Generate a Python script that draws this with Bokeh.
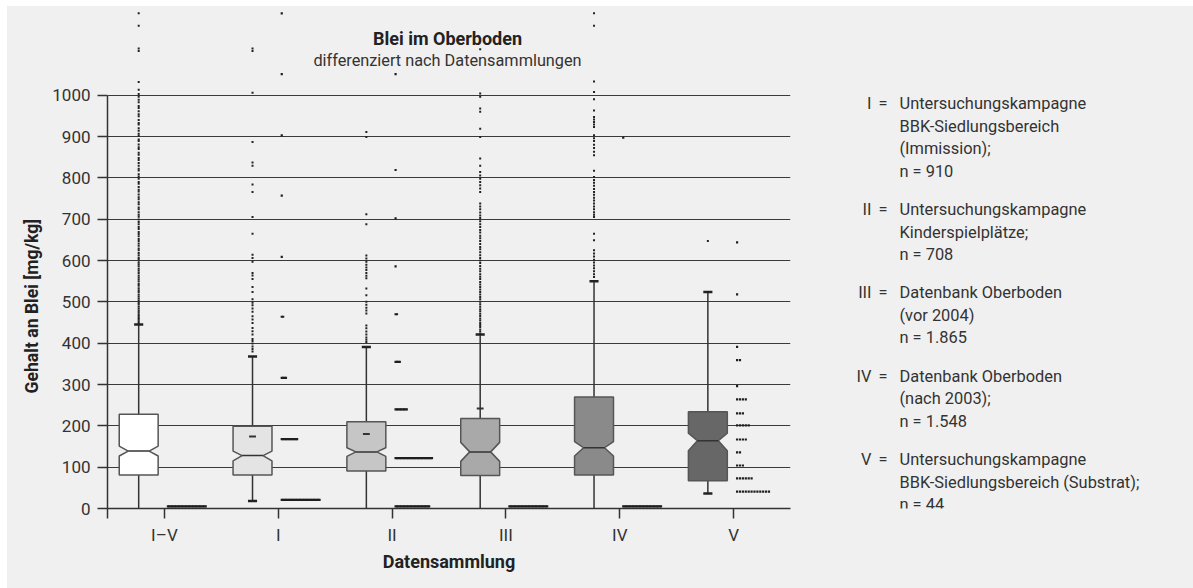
import numpy as np
from bokeh.plotting import figure
from bokeh.layouts import row, column
from bokeh.models import Label, FixedTicker, Range1d, Title, Spacer
from bokeh.embed import file_html
from bokeh.resources import INLINE

# ---------------- data ----------------
categories = ["I–V", "I", "II", "III", "IV", "V"]
q1 = [81, 81, 91, 80, 81, 67]
median = [139, 128, 137, 137, 147, 164]
q3 = [228, 199, 210, 218, 270, 234]
notch_lo = [127, 115, 126, 114, 127, 140]
notch_hi = [151, 139, 147, 160, 162, 182]
whisker_lo = [0, 18, 0, 0, 0, 36]
whisker_hi = [445, 368, 391, 421, 550, 524]
mean_cat = [2, 3, 4]
mean_val = [174, 180, 242]
box_colors = ["#ffffff", "#e4e4e4", "#c6c6c6", "#a9a9a9", "#8a8a8a", "#676767"]

outliers_IV_all = [1198, 1168, 1113, 1107, 1032, 1013, 1003, 996, 989, 983, 974, 969, 961,
                   954, 949, 940, 933, 929, 920, 914, 907, 902, 893, 889, 881, 874, 870,
                   861, 856, 848, 843, 836, 829, 822, 818, 809, 803, 798, 790, 786, 778,
                   771, 767, 760, 753, 748, 741, 736, 728, 724, 717, 711, 706, 699, 693,
                   688, 681, 676, 669, 664, 659, 652, 647, 641, 636, 629, 625, 618, 613,
                   607, 603, 596, 591, 586, 580, 575, 570, 564, 559, 554, 549, 543, 539,
                   533, 528, 524, 518, 513, 508, 503, 498, 494, 489, 484, 479, 475, 470,
                   466, 461, 457, 453, 449]
outliers_I = [1113, 1107, 1006, 887, 837, 829, 784, 766, 705, 665, 614, 606, 597, 570, 564,
              555, 536, 524, 506, 498, 492, 484, 476, 465, 457, 449, 437, 429, 421, 410,
              405, 399, 392, 386, 380]
outliers_II = [911, 899, 712, 688, 612, 605, 597, 590, 583, 577, 570, 563, 557, 532, 516,
               500, 493, 486, 479, 472, 443, 436, 428, 421, 414, 408, 403]
outliers_III = [1111, 1004, 996, 968, 960, 919, 899, 847, 829, 814, 806, 798, 790, 782,
                774, 766, 738, 731, 724, 716, 709, 703, 695, 688, 681, 674, 668, 660, 654,
                647, 640, 633, 627, 620, 613, 606, 600, 594, 587, 580, 574, 567, 561, 555,
                548, 542, 536, 530, 524, 518, 512, 506, 500, 494, 488, 482, 477, 471, 466,
                460, 455, 449, 444, 439, 433, 428, 423]
outliers_IV = [1198, 1168, 1033, 1008, 990, 963, 947, 941, 935, 929, 923, 903, 896, 889,
               880, 872, 863, 855, 817, 802, 795, 788, 781, 773, 766, 759, 752, 745, 738,
               731, 724, 717, 711, 705, 665, 649, 625, 617, 610, 602, 595, 588, 581, 574,
               567, 560]
outliers_V = [647]
outliers = [outliers_IV_all, outliers_I, outliers_II, outliers_III, outliers_IV, outliers_V]

# dot histograms beside each box (bin value, number of dots)
dot_bins = [
    [5],
    [21, 168, 316, 464, 609, 757, 903, 1051, 1198],
    [5, 122, 240, 355, 470, 586, 702, 819, 1051],
    [5],
    [5, 897],
    [41, 73, 104, 136, 167, 201, 230, 264, 296, 359, 391, 518, 644],
]
dot_counts = [
    [28],
    [28, 12, 4, 2, 1, 1, 1, 1, 1],
    [25, 27, 9, 4, 2, 1, 1, 1, 1],
    [28],
    [28, 1],
    [12, 6, 3, 2, 4, 5, 3, 4, 1, 2, 1, 1, 1],
]

legend_keys = ["I", "II", "III", "IV", "V"]
legend_texts = [
    ["Untersuchungskampagne", "BBK-Siedlungsbereich", "(Immission);", "n = 910"],
    ["Untersuchungskampagne", "Kinderspielplätze;", "n = 708"],
    ["Datenbank Oberboden", "(vor 2004)", "n = 1.865"],
    ["Datenbank Oberboden", "(nach 2003);", "n = 1.548"],
    ["Untersuchungskampagne", "BBK-Siedlungsbereich (Substrat);", "n = 44"],
]
y_ticks = list(range(0, 1001, 100))

# ---------------- layout constants (page pixels) ----------------
FONT = "Roboto"
BG = "#f0f0f0"
TOP, LEFT = 6, 7                 # white page strip above / left of the panel
H = 588 - TOP
W1, W2 = 786, 1193 - LEFT - 786
FRAME_LEFT_PAGE, FRAME_BOTTOM_PAGE = 107, 508
BORDER_BOTTOM = TOP + H - FRAME_BOTTOM_PAGE
FRAME_H = H - BORDER_BOTTOM
Y_END = FRAME_H / 0.4133

# ---------------- main figure ----------------
p = figure(width=W1, height=H, output_backend="svg", toolbar_location=None,
           x_range=Range1d(0.5, 6.5), y_range=Range1d(0, Y_END),
           min_border_left=FRAME_LEFT_PAGE - LEFT, min_border_right=3, min_border_top=0,
           min_border_bottom=BORDER_BOTTOM)
p.background_fill_color = BG
p.border_fill_color = BG
p.outline_line_color = None

p.yaxis.ticker = FixedTicker(ticks=y_ticks)
p.yaxis.bounds = (0, 1000)
p.yaxis.major_tick_out = 10
p.yaxis.major_tick_in = 0
p.yaxis.minor_tick_line_color = None
p.yaxis.major_label_standoff = 7
p.yaxis.major_label_text_font = FONT
p.yaxis.major_label_text_font_size = "17px"
p.yaxis.major_label_text_color = "#333333"
p.yaxis.axis_line_color = "#333333"
p.yaxis.axis_line_width = 1.5
p.yaxis.major_tick_line_color = "#333333"
p.yaxis.major_tick_line_width = 1.5

xt = [0.5, 1, 2, 3, 4, 5, 6]
p.xaxis.ticker = FixedTicker(ticks=xt)
p.xaxis.major_label_overrides = {0.5: ""} | {i + 1: c for i, c in enumerate(categories)}
p.xaxis.major_tick_out = 10
p.xaxis.major_tick_in = 0
p.xaxis.minor_tick_line_color = None
p.xaxis.major_label_standoff = 6
p.xaxis.major_label_text_font = FONT
p.xaxis.major_label_text_font_size = "17px"
p.xaxis.major_label_text_color = "#333333"
p.xaxis.axis_line_color = "#333333"
p.xaxis.axis_line_width = 1.5
p.xaxis.major_tick_line_color = "#333333"
p.xaxis.major_tick_line_width = 1.5
p.xaxis.axis_label = "Datensammlung"
p.xaxis.axis_label_text_font = FONT
p.xaxis.axis_label_text_font_style = "bold"
p.xaxis.axis_label_text_font_size = "18px"
p.xaxis.axis_label_text_color = "#222222"
p.xaxis.axis_label_standoff = 3

p.xgrid.grid_line_color = None
p.ygrid.grid_line_color = "#3a3a3a"
p.ygrid.grid_line_width = 1

# y axis title in a side panel, placed along the 0..1000 part
p.add_layout(Title(text="Gehalt an Blei [mg/kg]", align="left", offset=115,
                   text_font=FONT, text_font_size="17.6px", text_font_style="bold",
                   text_color="#222222", standoff=16), "left")

# ---------------- boxes ----------------
pos = np.arange(1, len(categories) + 1, dtype=float)
bc = pos - 0.226
hw, inset, cap_hw = 0.171, 0.079, 0.04

p.segment(x0=bc, y0=q3, x1=bc, y1=whisker_hi, line_color="#333333", line_width=1.5)
p.segment(x0=bc, y0=whisker_lo, x1=bc, y1=q1, line_color="#333333", line_width=1.5)
p.segment(x0=bc - cap_hw, y0=whisker_hi, x1=bc + cap_hw, y1=whisker_hi,
          line_color="#222222", line_width=2.5)
lo_idx = [i for i, v in enumerate(whisker_lo) if v > 0]
p.segment(x0=bc[lo_idx] - cap_hw, y0=[whisker_lo[i] for i in lo_idx],
          x1=bc[lo_idx] + cap_hw, y1=[whisker_lo[i] for i in lo_idx],
          line_color="#222222", line_width=2.5)

xs, ys = [], []
for i in range(len(categories)):
    c = bc[i]
    xs.append([c - hw, c - hw, c - hw + inset, c - hw, c - hw, c + hw, c + hw,
               c + hw - inset, c + hw, c + hw])
    ys.append([q1[i], notch_lo[i], median[i], notch_hi[i], q3[i], q3[i], notch_hi[i],
               median[i], notch_lo[i], q1[i]])
p.patches(xs=xs, ys=ys, fill_color=box_colors, line_color="#555555", line_width=1.5)
p.segment(x0=bc - hw + inset, y0=median, x1=bc + hw - inset, y1=median,
          line_color="#333333", line_width=1.5)

mc = np.array(mean_cat, dtype=float) - 0.226
p.segment(x0=mc - 0.03, y0=mean_val, x1=mc + 0.03, y1=mean_val,
          line_color="#333333", line_width=2)

ox, oy = [], []
for i, vals in enumerate(outliers):
    ox += [bc[i]] * len(vals)
    oy += vals
p.scatter(x=ox, y=oy, marker="square", size=2, fill_color="#222222", line_color=None)

px_per_unit = 683 / 6.0
pitch_px = [1.4, 1.4, 1.4, 1.4, 1.4, 2.9]
dx, dy = [], []
for i in range(len(categories)):
    start = pos[i] + 3.5 / px_per_unit
    for b, n in zip(dot_bins[i], dot_counts[i]):
        for k in range(n):
            dx.append(start + k * pitch_px[i] / px_per_unit)
            dy.append(b)
p.scatter(x=dx, y=dy, marker="square", size=2.2, fill_color="#1e1e1e", line_color=None)


def frame_label(text, page_x, page_y, size, style, color):
    p.add_layout(Label(x=page_x - FRAME_LEFT_PAGE, y=FRAME_BOTTOM_PAGE - page_y,
                       x_units="screen", y_units="screen", text=text,
                       text_align="center", text_baseline="middle", text_font=FONT,
                       text_font_size=size, text_font_style=style, text_color=color))


frame_label("Blei im Oberboden", 447, 38, "18px", "bold", "#222222")
frame_label("differenziert nach Datensammlungen", 447, 60, "16.3px", "normal", "#333333")

# ---------------- legend figure (frame aligned with the main figure) ----------------
q = figure(width=W2, height=H, output_backend="svg", toolbar_location=None,
           x_range=Range1d(0, W2), y_range=Range1d(0, FRAME_H),
           min_border_left=0, min_border_right=0, min_border_top=0,
           min_border_bottom=BORDER_BOTTOM)
q.axis.visible = False
q.grid.grid_line_color = None
q.background_fill_color = BG
q.border_fill_color = BG
q.outline_line_color = None

Q_LEFT_PAGE = LEFT + W1


def leg_label(text, page_x, page_y, align):
    q.add_layout(Label(x=page_x - Q_LEFT_PAGE, y=FRAME_H - (page_y - TOP), text=text,
                       text_align=align, text_baseline="middle", text_font=FONT,
                       text_font_size="16.4px", text_color="#333333"))


ly = 103.3
for key, lines in zip(legend_keys, legend_texts):
    leg_label(key, 871, ly, "right")
    leg_label("=", 882.5, ly, "center")
    for j, t in enumerate(lines):
        leg_label(t, 899, ly + j * 22.5, "left")
    ly += (len(lines) - 1) * 22.5 + 38.3

panel = row(p, q, spacing=0, styles={"background-color": BG})
layout = column(Spacer(height=TOP), row(Spacer(width=LEFT), panel, spacing=0), spacing=0)
open("out.html", "w").write(file_html(layout, INLINE))
